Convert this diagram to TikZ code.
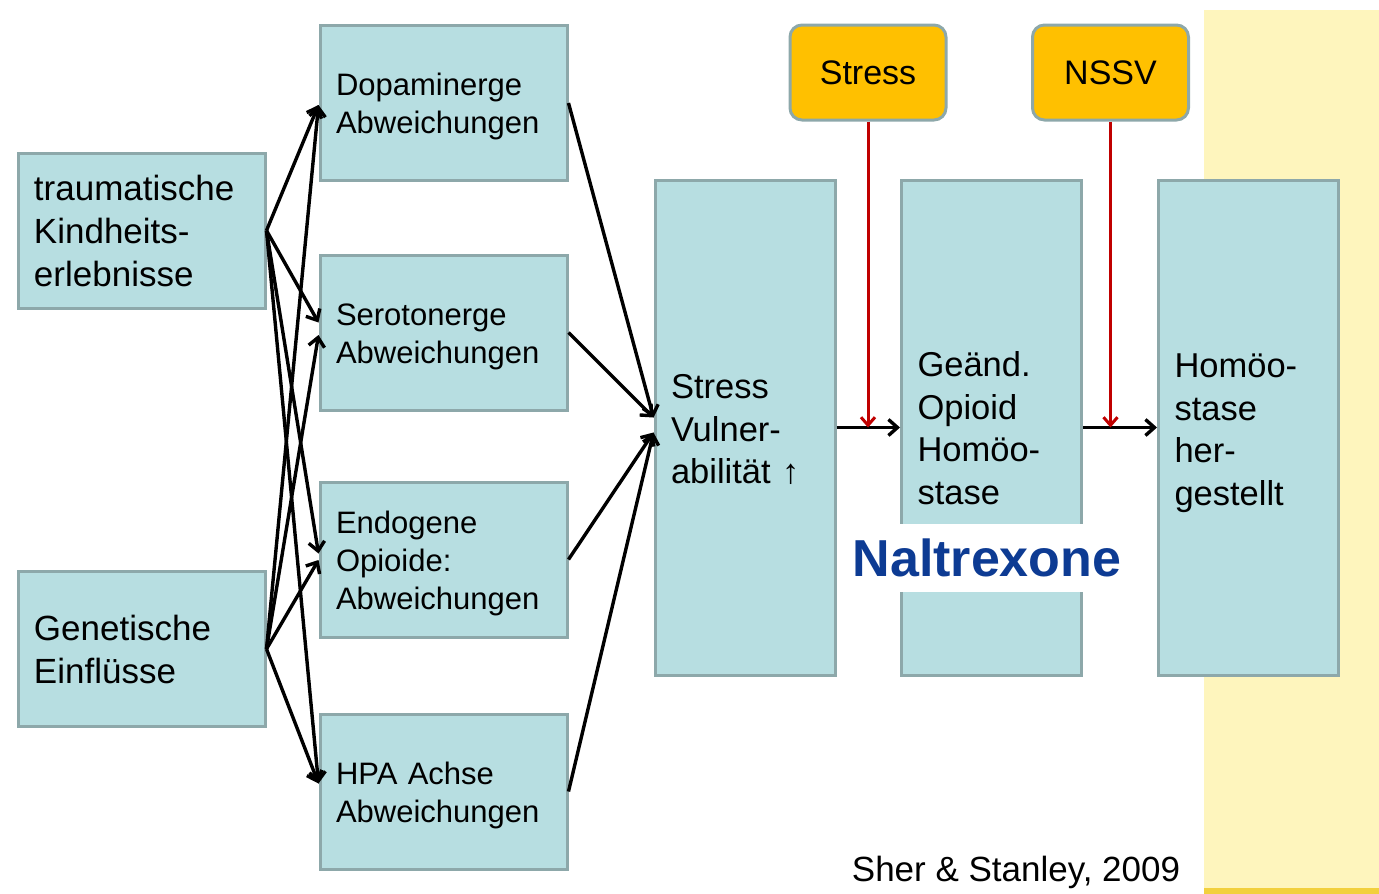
\documentclass[tikz,border=0pt]{standalone}
\usepackage{fontspec}
\setmainfont{Liberation Sans}
\usetikzlibrary{arrows.meta,calc}
\definecolor{boxfill}{HTML}{B7DEE1}
\definecolor{boxline}{HTML}{8DA8AA}
\definecolor{orangefill}{HTML}{FFC000}
\definecolor{yellowbg}{HTML}{FEF5BD}
\definecolor{goldline}{HTML}{F2D03D}
\definecolor{naltblue}{HTML}{0D3B93}
\definecolor{redarr}{HTML}{C00000}
\newcommand{\topstrut}[1]{\rule{0pt}{#1}}
\tikzset{
  bluebox/.style={draw=boxline, fill=boxfill, line width=3pt, inner xsep=16pt, inner ysep=0pt, align=left, anchor=center},
  midbox/.style={bluebox, text width=215pt, minimum height=155pt, font=\fontsize{31}{38}\selectfont},
  leftbox/.style={bluebox, text width=215pt, minimum height=155pt, font=\fontsize{35}{43}\selectfont},
  tallbox/.style={bluebox, text width=148pt, minimum height=495pt, font=\fontsize{34.5}{42.5}\selectfont},
  orbox/.style={draw=boxline, fill=orangefill, line width=3pt, rounded corners=12pt, minimum width=156pt, minimum height=95pt, inner sep=0pt, font=\fontsize{34}{40}\selectfont},
  conn/.style={line width=3.4pt, -{Straight Barb[length=9pt,width=16pt,line width=3.4pt]}},
  redconn/.style={line width=3pt, draw=redarr, -{Straight Barb[length=8pt,width=14pt,line width=3pt]}}
}
\begin{document}
\begin{tikzpicture}[x=1pt,y=-1pt]
\useasboundingbox (0,0) rectangle (1379,894);
\fill[yellowbg] (1204,10) rectangle (1379,888);
\fill[goldline] (1204,888) rectangle (1379,894);

\node[leftbox] (trauma) at (141.5,230.5) {traumatische\\Kindheits-\\erlebnisse};
\node[leftbox] (gen) at (141.5,649) {Genetische\\Einflüsse};

\node[midbox] (dop) at (443.5,103) {\topstrut{30pt}Dopaminerge\\Abweichungen};
\node[midbox] (ser) at (443.5,332.5) {\topstrut{30pt}Serotonerge\\Abweichungen};
\node[midbox] (endo) at (443.5,559.5) {\topstrut{30pt}Endogene\\Opioide:\\Abweichungen};
\node[midbox] (hpa) at (443.5,791.5) {\topstrut{30pt}HPA Achse\\Abweichungen};

\node[tallbox] (sv) at (745,427.5) {\topstrut{29pt}Stress\\Vulner-\\abilität ↑};
\node[tallbox] (ge) at (991.5,427.5) {\topstrut{26pt}Geänd.\\Opioid\\Homöo-\\stase};
\node[tallbox] (ho) at (1248.5,427.5) {\topstrut{35pt}Homöo-\\stase\\her-\\gestellt};

\node[orbox] (stress) at (868,72.5) {Stress};
\node[orbox] (nssv) at (1110.5,72.5) {NSSV};

\node[fill=white, text=naltblue, inner xsep=8pt, inner ysep=0pt, minimum height=68pt, font=\bfseries\fontsize{52}{60}\selectfont] (nal) at (987,558) {Naltrexone};

\node[font=\fontsize{35}{40}\selectfont, inner sep=0pt] (ref) at (1016,872) {Sher \& Stanley, 2009};

% left to middle
\draw[conn] (trauma.east) -- ([yshift=-2pt]dop.west);
\draw[conn] (trauma.east) -- ([yshift=10pt]ser.west);
\draw[conn] (trauma.east) -- ([yshift=6pt]endo.west);
\draw[conn] (trauma.east) -- ([yshift=8pt]hpa.west);
\draw[conn] (gen.east) -- ([yshift=-2pt]dop.west);
\draw[conn] (gen.east) -- ([yshift=-2.5pt]ser.west);
\draw[conn] (gen.east) -- ([yshift=-0.5pt]endo.west);
\draw[conn] (gen.east) -- ([yshift=8pt]hpa.west);

% middle to stress vulnerability
\draw[conn] (dop.east) -- ([yshift=10pt]sv.west);
\draw[conn] (ser.east) -- ([yshift=10pt]sv.west);
\draw[conn] (endo.east) -- ([yshift=-5pt]sv.west);
\draw[conn] (hpa.east) -- ([yshift=-5pt]sv.west);

% chain
\draw[conn] (sv.east) -- (ge.west);
\draw[conn] (ge.east) -- (ho.west);

% red arrows
\draw[redconn] (stress.south) -- (stress.south |- sv.east);
\draw[redconn] (nssv.south) -- (nssv.south |- ge.east);
\end{tikzpicture}
\end{document}
